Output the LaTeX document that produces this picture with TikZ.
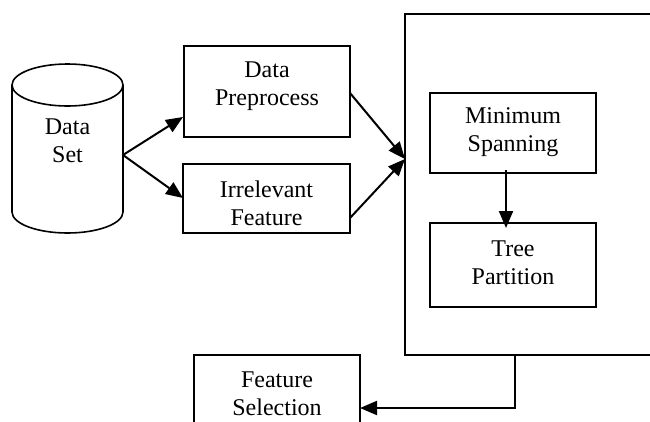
\documentclass[tikz,border=0pt]{standalone}
\usepackage{fontspec}
\setmainfont{Liberation Serif}
\usetikzlibrary{arrows.meta}
\begin{document}
\begin{tikzpicture}[x=1pt,y=-1pt,
  boxnode/.style={draw, line width=1.6pt, inner sep=0pt},
  txt/.style={align=center, font=\fontsize{24}{28}\selectfont, inner sep=0pt},
  conn/.style={line width=2pt, -{Triangle[length=17pt,width=14pt]}}]
\useasboundingbox (0,0) rectangle (650,421);
\clip (0,0) rectangle (650,421);
% cylinder
\draw[line width=1.6pt] (12,85) -- (12,212) arc[start angle=180,end angle=0,x radius=55.5,y radius=21] -- (123,85);
\draw[line width=1.6pt] (67.5,85) ellipse[x radius=55.5, y radius=21];
\node[inner sep=0pt, minimum width=111pt, minimum height=170pt] (ds) at (67.5,148) {};
\node[txt] (dst) at (67.5,141) {Data\\Set};
% boxes
\node[boxnode, minimum width=166pt, minimum height=91pt] (dp) at (267,91.5) {};
\node[txt] (dpt) at (267,86) {Data\\Preprocess};
\node[boxnode, minimum width=167pt, minimum height=69pt] (irf) at (266.5,198.5) {};
\node[txt] (irft) at (266.5,203.5) {Irrelevant\\Feature};
% big box
\node[draw, line width=1.4pt, inner sep=0pt, minimum width=270pt, minimum height=341pt] (big) at (540,184.5) {};
\node[boxnode, minimum width=166pt, minimum height=80pt] (ms) at (513,133) {};
\node[txt] (mst) at (513,132) {Minimum\\Spanning};
\node[boxnode, minimum width=166pt, minimum height=84pt] (tp) at (513,265) {};
\node[txt] (tpt) at (513,263) {Tree\\Partition};
\node[boxnode, minimum width=166pt, minimum height=90pt] (fs) at (277,400) {};
\node[txt] (fst) at (277,394) {Feature\\Selection};
% connector points
\coordinate (c1) at (123,155);
\coordinate (d1) at (183,117);
\coordinate (d2) at (183,198);
\coordinate (p1) at (350,93);
\coordinate (p2) at (350,218);
\coordinate (bin) at (405,159);
\coordinate (m1) at (506,170);
\coordinate (m2) at (506,228);
\coordinate (b1) at (515,355);
\coordinate (b2) at (515,408);
\coordinate (f1) at (360,408);
\draw[conn] (c1) -- (d1);
\draw[conn] (c1) -- (d2);
\draw[conn] (p1) -- (bin);
\draw[conn] (p2) -- (bin);
\draw[conn] (m1) -- (m2);
\draw[conn] (b1) -- (b2) -- (f1);
\end{tikzpicture}
\end{document}
